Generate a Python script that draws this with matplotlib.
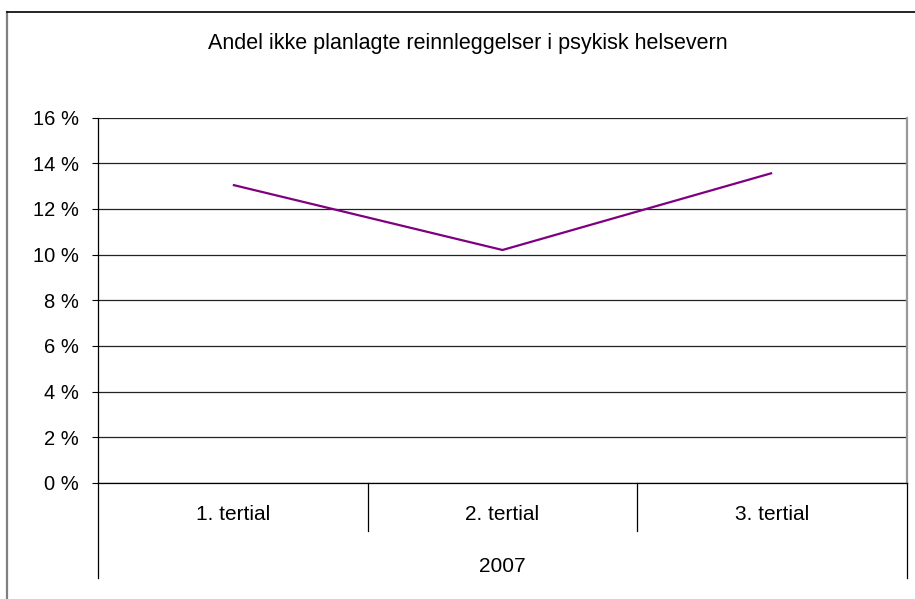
import matplotlib.pyplot as plt
from matplotlib.lines import Line2D
from matplotlib.ticker import FuncFormatter
import matplotlib.transforms as mtransforms

plt.rcParams['font.family'] = ['Liberation Sans', 'DejaVu Sans']

# data
TITLE = "Andel ikke planlagte reinnleggelser i psykisk helsevern"
categories = ["1. tertial", "2. tertial", "3. tertial"]
group_label = "2007"
values = [0.1305, 0.1020, 0.1357]
y_ticks = [0, 0.02, 0.04, 0.06, 0.08, 0.10, 0.12, 0.14, 0.16]

W, H = 915, 599
fig = plt.figure(figsize=(W / 100, H / 100), dpi=100)

# plot area in pixels
left, right, top, bottom = 98, 907, 117.5, 483
ax = fig.add_axes([left / W, 1 - bottom / H, (right - left) / W, (bottom - top) / H])
ph = bottom - top

x = list(range(len(categories)))
ax.plot(x, values, color="#800080", linewidth=1.6, solid_capstyle="butt")

ax.set_xlim(-0.5, len(categories) - 0.5)
ax.set_ylim(0, 0.16)
ax.set_yticks(y_ticks)
ax.yaxis.set_major_formatter(FuncFormatter(lambda v, p: f"{round(v * 100)} %"))
ax.tick_params(axis="y", length=4.5, width=0.8, color="black", labelsize=14.5, pad=9)
ax.set_xticks([])
ax.yaxis.grid(True, color="#222222", linewidth=0.9)
ax.set_axisbelow(True)

for s in ["left", "bottom"]:
    ax.spines[s].set_color("black")
    ax.spines[s].set_linewidth(0.9)
ax.spines["top"].set_visible(False)
ax.spines["right"].set_color("#999999")
ax.spines["right"].set_linewidth(1.6)

# multi-level category axis
trans = mtransforms.blended_transform_factory(ax.transData, ax.transAxes)
inner_low = -(531 - bottom) / ph
outer_low = -(578 - bottom) / ph
for i in range(1, len(categories)):
    ax.plot([i - 0.5, i - 0.5], [0, inner_low], transform=trans, color="black",
            linewidth=0.9, clip_on=False)
for xe in [-0.5, len(categories) - 0.5]:
    ax.plot([xe, xe], [0, outer_low], transform=trans, color="black",
            linewidth=0.9, clip_on=False)
for i, c in enumerate(categories):
    ax.text(i, -(515 - bottom) / ph, c, transform=trans, ha="center", va="center", fontsize=15)
ax.text((len(categories) - 1) / 2, -(567 - bottom) / ph, group_label, transform=trans,
        ha="center", va="center", fontsize=15)

# title
fig.text(468 / W, 1 - 43 / H, TITLE, ha="center", va="center", fontsize=15.5)

# chart frame
fig.add_artist(Line2D([7 / W, 7 / W], [0, 1 - 11.5 / H], transform=fig.transFigure,
                      color="#808080", linewidth=1.6))
fig.add_artist(Line2D([7 / W, 1], [1 - 11.5 / H, 1 - 11.5 / H], transform=fig.transFigure,
                      color="black", linewidth=1.2))

fig.savefig("out.png", dpi=100)
